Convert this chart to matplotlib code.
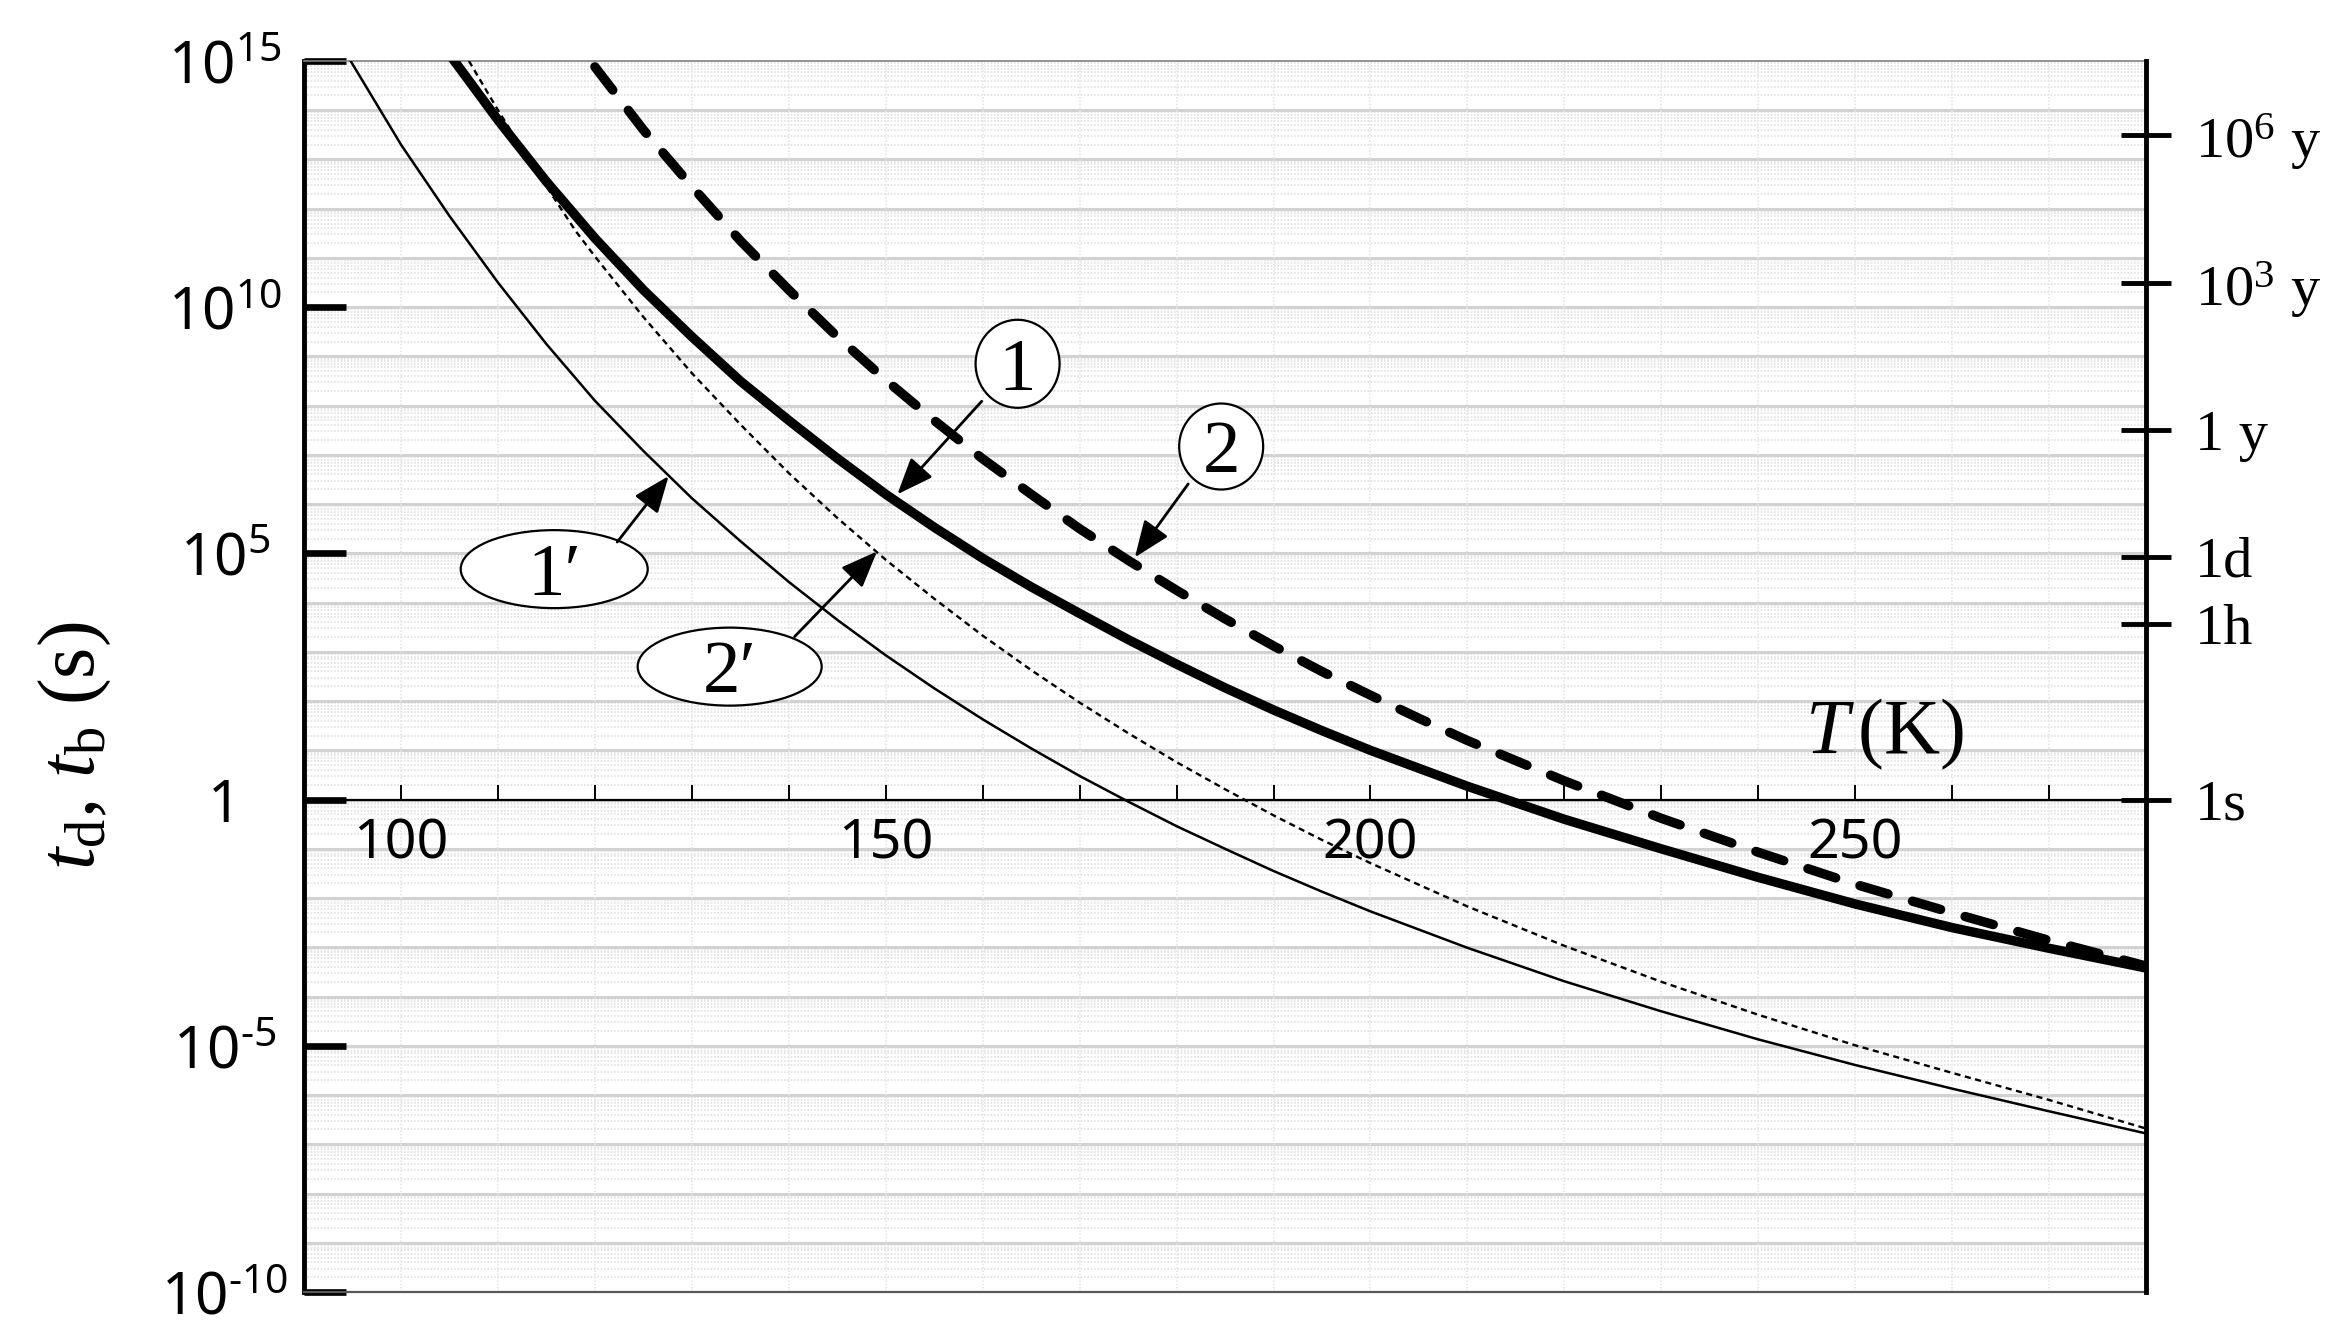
import numpy as np
import matplotlib
matplotlib.use("Agg")
import matplotlib.pyplot as plt
from matplotlib.patches import Ellipse
from matplotlib.ticker import NullLocator

plt.rcParams['font.family'] = ['Noto Sans', 'DejaVu Sans']
plt.rcParams['mathtext.fontset'] = 'custom'
plt.rcParams['mathtext.rm'] = 'Liberation Serif'
plt.rcParams['mathtext.it'] = 'Liberation Serif:italic'
SERIF = ['Liberation Serif', 'DejaVu Serif']

# values: temperature (K) and log10 of time (s)
T_1 = [105.5, 110, 115, 120, 125, 130, 135, 140, 145, 150, 155, 160, 165, 170,
       175, 180, 185, 190, 195, 200, 210, 220, 230, 240, 250, 260, 270, 280]
logt_1 = [15.0, 13.8, 12.55, 11.4, 10.35, 9.4, 8.5, 7.7, 6.93, 6.2, 5.53, 4.9,
          4.32, 3.78, 3.25, 2.75, 2.27, 1.82, 1.4, 1.0, 0.27, -0.4, -1.0,
          -1.58, -2.12, -2.6, -3.02, -3.42]

T_2 = [120, 125, 130, 135, 140, 145, 150, 155, 160, 165, 170, 175, 180, 185,
       190, 195, 200, 205, 210, 220, 230, 240, 250, 260, 270, 280]
logt_2 = [14.88, 13.6, 12.45, 11.35, 10.35, 9.4, 8.52, 7.7, 6.92, 6.2, 5.5,
          4.86, 4.25, 3.67, 3.12, 2.6, 2.12, 1.65, 1.2, 0.38, -0.38, -1.07,
          -1.72, -2.3, -2.86, -3.38]

T_1p = [94.8, 100, 105, 110, 115, 120, 125, 130, 135, 140, 145, 150, 155, 160,
        165, 170, 175, 180, 185, 190, 195, 200, 210, 220, 230, 240, 250, 260,
        270, 280]
logt_1p = [15.0, 13.3, 11.85, 10.5, 9.25, 8.1, 7.08, 6.12, 5.25, 4.42, 3.65,
           2.93, 2.26, 1.63, 1.04, 0.48, -0.04, -0.54, -1.0, -1.45, -1.87,
           -2.27, -3.01, -3.69, -4.3, -4.87, -5.39, -5.87, -6.33, -6.78]

T_2p = [107, 110, 114, 118, 120, 125, 130, 135, 140, 145, 150, 155, 160, 165,
        170, 175, 180, 185, 190, 195, 200, 210, 220, 230, 240, 250, 260, 270,
        280]
logt_2p = [15.0, 14.0, 12.75, 11.55, 11.03, 9.8, 8.66, 7.62, 6.63, 5.72, 4.87,
           4.08, 3.33, 2.63, 1.97, 1.35, 0.76, 0.21, -0.32, -0.82, -1.29,
           -2.17, -2.97, -3.7, -4.37, -4.99, -5.55, -6.1, -6.68]

x_ticks = list(range(100, 280, 10))
x_labels = ['100', '', '', '', '', '150', '', '', '', '', '200', '', '', '', '',
            '250', '', '']
left_ticks = [1e-10, 1e-5, 1, 1e5, 1e10, 1e15]
left_labels = ['$\\mathregular{10^{\u201010}}$', '$\\mathregular{10^{\u20105}}$',
               '1', r'$\mathregular{10^{5}}$', r'$\mathregular{10^{10}}$',
               r'$\mathregular{10^{15}}$']
right_ticks = [1, 3600, 86400, 3.156e7, 3.156e10, 3.156e13]
right_labels = ['1s', '1h', '1d', '1 y', r'$\mathregular{10^{3}}$ y',
                r'$\mathregular{10^{6}}$ y']

# callouts: label, centre (T, log t), ellipse size (px), arrow start, arrow tip
callouts = [
    ('1', (163.6, 8.85), (84, 88), (159.9, 8.09), (151.2, 6.2)),
    ('2', (184.6, 7.17), (84, 86), (181.2, 6.41), (175.7, 4.92)),
    ('1\u2032', (115.8, 4.68), (187, 78), (122.3, 5.23), (127.6, 6.57)),
    ('2\u2032', (133.9, 2.70), (184, 78), (140.6, 3.31), (149.1, 5.04)),
]

fig = plt.figure(figsize=(23.5, 13.31), dpi=100)
ax = fig.add_axes([0.1294, 0.0293, 0.7838, 0.9249])
ax.set_yscale('log')
ax.set_xlim(90, 280)
ax.set_ylim(1e-10, 1e15)

# grid
for k in range(-10, 15):
    ax.axhline(10.0 ** k, color='#d2d2d2', lw=2.2, zorder=0)
    for m in range(2, 10):
        ax.axhline(m * 10.0 ** k, color='#e2e2e2', lw=1.2, ls=(0, (1, 1)), zorder=0)
for xv in x_ticks:
    ax.axvline(xv, color='#e6e6e6', lw=1.2, ls=(0, (1, 1)), zorder=0)

# curves
ax.plot(T_1, 10 ** np.array(logt_1), color='black', lw=6.8, zorder=4)
ax.plot(T_2, 10 ** np.array(logt_2), color='black', lw=6.8, ls=(0, (3.1, 2.7)),
        dash_capstyle='round', zorder=4)
ax.plot(T_1p, 10 ** np.array(logt_1p), color='black', lw=1.8, zorder=4)
ax.plot(T_2p, 10 ** np.array(logt_2p), color='black', lw=1.7, ls=(0, (2.6, 1.9)),
        zorder=4)

# spines and ticks
ax.spines['bottom'].set_position(('data', 1))
ax.spines['bottom'].set_linewidth(1.6)
ax.spines['left'].set_linewidth(3.5)
ax.spines['top'].set_color('0.5')
ax.spines['top'].set_linewidth(1.2)
ax.spines['right'].set_visible(False)
ax.axhline(1e-10, color='0.35', lw=1.6, clip_on=False, zorder=5)

ax.set_xticks(x_ticks, x_labels)
ax.tick_params(axis='x', direction='in', length=11, width=1.4, pad=12,
               labelsize=40)
ax.set_yticks(left_ticks, left_labels)
ax.yaxis.set_minor_locator(NullLocator())
ax.tick_params(axis='y', direction='in', length=30, width=4.8, pad=57,
               labelsize=42)
for lab in ax.get_yticklabels():
    lab.set_ha('center')

ax2 = ax.twinx()
ax2.set_yscale('log')
ax2.set_ylim(1e-10, 1e15)
ax2.set_yticks(right_ticks, right_labels, fontfamily=SERIF)
ax2.yaxis.set_minor_locator(NullLocator())
ax2.tick_params(axis='y', direction='inout', length=36, width=3.5, pad=17,
                labelsize=42)
for s in ['top', 'bottom', 'left']:
    ax2.spines[s].set_visible(False)
ax2.spines['right'].set_linewidth(3.5)

# labels
ax.text(253, 10 ** 1.33, r'$T\,$(K)', fontsize=56, family=SERIF,
        ha='center', va='center', zorder=6)
fig.text(0.032, 0.44, r'$t_\mathrm{d}$, $t_\mathrm{b}$ (s)', fontsize=58,
         family=SERIF, rotation=90, ha='center', va='center')

# callout ellipses and arrows
to_axes = ax.transScale + ax.transLimits
ax_w = 0.7838 * 2350
ax_h = 0.9249 * 1331
for label, (tc, lc), (w, h), (ts, ls_), (tt, lt) in callouts:
    cx, cy = to_axes.transform((tc, 10 ** lc))
    ax.add_patch(Ellipse((cx, cy), w / ax_w, h / ax_h, transform=ax.transAxes,
                         facecolor='white', edgecolor='black', lw=1.6, zorder=7))
    ax.text(tc, 10 ** lc, label, fontsize=54, family=SERIF, ha='center',
            va='center_baseline', zorder=8)
    ax.annotate('', xy=(tt, 10 ** lt), xytext=(ts, 10 ** ls_),
                arrowprops=dict(arrowstyle='-|>,head_length=0.5,head_width=0.2',
                                color='black', lw=2, mutation_scale=45,
                                shrinkA=0, shrinkB=0), zorder=8)

fig.savefig('out.png', dpi=100)
